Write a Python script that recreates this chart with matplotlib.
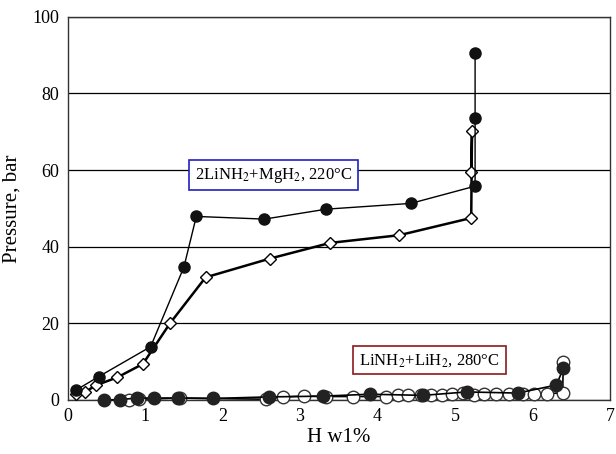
import numpy as np
import matplotlib
matplotlib.use("Agg")
import matplotlib.pyplot as plt

# 2LiNH2+MgH2, 220C - filled circles
mg_fill_x = [0.10, 0.40, 1.07, 1.50, 1.66, 2.54, 3.34, 4.43, 5.26, 5.26, 5.26]
mg_fill_y = [2.5, 6.1, 13.9, 34.7, 47.9, 47.2, 49.8, 51.3, 55.8, 73.6, 90.5]

# 2LiNH2+MgH2, 220C - open diamonds
mg_open_x = [0.10, 0.22, 0.36, 0.64, 0.97, 1.32, 1.78, 2.61, 3.39, 4.28, 5.21, 5.22, 5.21]
mg_open_y = [1.5, 2.0, 3.8, 5.9, 9.4, 20.0, 32.0, 36.9, 41.0, 43.0, 47.5, 70.1, 59.6]

# LiNH2+LiH2, 280C - filled circles
li_fill_x = [0.47, 0.68, 0.89, 1.12, 1.43, 1.88, 2.60, 3.29, 3.90, 4.59, 5.15, 5.81, 6.31, 6.40]
li_fill_y = [0.0, 0.1, 0.5, 0.5, 0.5, 0.4, 0.8, 1.0, 1.5, 1.2, 2.1, 1.8, 3.9, 8.3]

# LiNH2+LiH2, 280C - open circles
li_open_x = [0.79, 0.92, 1.45, 2.56, 2.78, 3.05, 3.34, 3.68, 4.11, 4.26, 4.40, 4.56, 4.69,
             4.83, 4.96, 5.10, 5.24, 5.38, 5.53, 5.70, 5.88, 6.02, 6.19, 6.39, 6.40]
li_open_y = [0.0, 0.2, 0.5, 0.2, 0.8, 1.0, 0.9, 0.9, 0.9, 1.3, 1.3, 1.3, 1.4,
             1.4, 1.5, 1.7, 1.2, 1.6, 1.6, 1.6, 1.6, 1.6, 1.6, 1.9, 10.0]

plt.rcParams['font.family'] = ['Liberation Serif', 'DejaVu Serif']
plt.rcParams['mathtext.fontset'] = 'stix'

fig = plt.figure(figsize=(6.16, 4.54), dpi=100)
ax = fig.add_axes([0.110, 0.119, 0.880, 0.844])

ax.plot(li_open_x, li_open_y, '-', color='black', lw=1.2, marker='o', ms=9,
        mfc='white', mec='#333333', mew=1.0, zorder=3, clip_on=False)
ax.plot(li_fill_x, li_fill_y, '-', color='black', lw=1.2, marker='o', ms=9,
        mfc='#222222', mec='#222222', zorder=4, clip_on=False)
ax.plot(mg_open_x, mg_open_y, '-', color='black', lw=1.8, marker='D', ms=6.5,
        mfc='white', mec='black', mew=1.0, zorder=5, clip_on=False)
ax.plot(mg_fill_x, mg_fill_y, '-', color='black', lw=1.0, marker='o', ms=8,
        mfc='#111111', mec='#111111', zorder=6, clip_on=False)

ax.set_xlim(0, 7)
ax.set_ylim(0, 100)
ax.set_xticks(range(0, 8))
ax.set_yticks(range(0, 101, 20))
ax.yaxis.grid(True, color='black', lw=0.9)
ax.set_axisbelow(True)
ax.tick_params(length=0, labelsize=13, pad=6)
for s in ax.spines.values():
    s.set_color('#333333')
    s.set_linewidth(1.0)

ax.set_xlabel('H w1%', fontsize=15, labelpad=2)
ax.set_ylabel('Pressure, bar', fontsize=15, labelpad=8)

ax.text(2.66, 58.7, r'2LiNH$_2$+MgH$_2$, 220°C', fontsize=12, ha='center', va='center',
        zorder=8, bbox=dict(boxstyle='square,pad=0.35', fc='white', ec='#2020c0', lw=1.2))
ax.text(4.67, 10.4, r'LiNH$_2$+LiH$_2$, 280°C', fontsize=12, ha='center', va='center',
        zorder=8, bbox=dict(boxstyle='square,pad=0.35', fc='white', ec='#8b1a1a', lw=1.2))

fig.savefig('out.png', dpi=100)
